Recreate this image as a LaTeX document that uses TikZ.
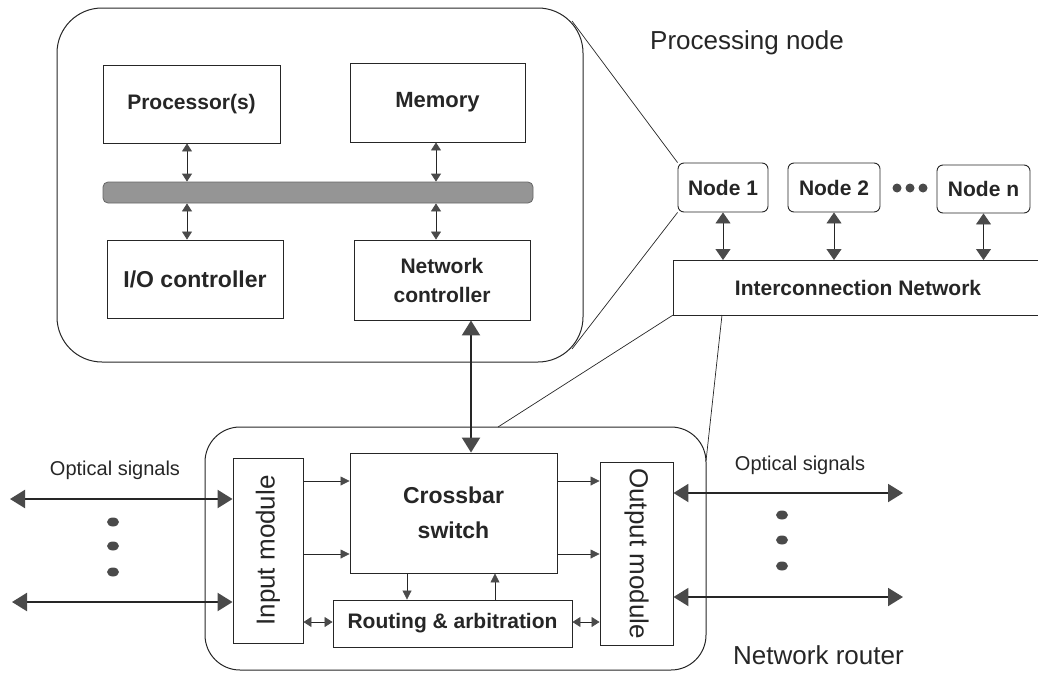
\documentclass[tikz,border=0pt]{standalone}
\usepackage{fontspec}
\setmainfont{Liberation Sans}
\usetikzlibrary{arrows.meta,calc}
\definecolor{ink}{HTML}{262626}
\definecolor{tip}{HTML}{4A4A4A}
\definecolor{busfill}{HTML}{959595}
\begin{document}
\begin{tikzpicture}[x=1pt,y=-1pt,
  box/.style={draw=ink, line width=0.9pt, fill=white, inner sep=0pt, align=center, text=ink,
              font=\bfseries\fontsize{21}{29}\selectfont},
  rbox/.style={box, rounded corners=6pt},
  container/.style={draw=ink, line width=1pt, fill=none, inner sep=0pt},
  zoomline/.style={draw=ink, line width=0.7pt},
  sarrow/.style={draw=ink, line width=0.8pt, -{Triangle[length=9pt,width=9pt,fill=tip,color=tip]}},
  darrow/.style={draw=ink, line width=0.8pt, {Triangle[length=8pt,width=10pt,fill=tip,color=tip]}-{Triangle[length=8pt,width=10pt,fill=tip,color=tip]}},
  narrow/.style={draw=ink, line width=0.9pt, {Triangle[length=11pt,width=15pt,fill=tip,color=tip]}-{Triangle[length=11pt,width=15pt,fill=tip,color=tip]}},
  tarrow/.style={draw=ink, line width=2.2pt, {Triangle[length=15pt,width=18pt,fill=tip,color=tip]}-{Triangle[length=15pt,width=18pt,fill=tip,color=tip]}},
  label/.style={text=ink, inner sep=0pt, font=\fontsize{26}{30}\selectfont},
  optlabel/.style={text=ink, inner sep=0pt, font=\fontsize{20}{24}\selectfont},
  dot/.style={fill=tip}
]
\useasboundingbox (0,0) rectangle (1038,672);

% ---------- Processing node ----------
\node[container, rounded corners=45pt, minimum width=526, minimum height=354] (pn) at (320,185) {};
\node[box, minimum width=177, minimum height=78] (proc) at (191.5,104) {Processor(s)};
\node[box, minimum width=175, minimum height=79, font=\bfseries\fontsize{22}{26}\selectfont] (mem) at (437.5,102.5) {Memory};
\node[draw=black!60, fill=busfill, line width=0.8pt, rounded corners=5pt, minimum width=430, minimum height=21, inner sep=0pt] (bus) at (318,192.5) {};
\node[box, minimum width=176, minimum height=78, font=\bfseries\fontsize{23}{27}\selectfont] (io) at (195,279) {I/O controller};
\node[box, minimum width=176, minimum height=80] (netc) at (442,280) {Network\\controller};

\draw[darrow] (proc.south -| 187,0) -- (bus.north -| 187,0);
\draw[darrow] (bus.south -| 187,0) -- (io.north -| 187,0);
\draw[darrow] (mem.south -| 436,0) -- (bus.north -| 436,0);
\draw[darrow] (bus.south -| 436,0) -- (netc.north -| 436,0);

\node[label, anchor=west] (pnlabel) at (650,43) {Processing node};

% ---------- Nodes and interconnection ----------
\node[rbox, minimum width=90, minimum height=49] (n1) at (723,187.5) {Node 1};
\node[rbox, minimum width=92, minimum height=49] (n2) at (834,187.5) {Node 2};
\node[rbox, minimum width=93, minimum height=48] (nn) at (983.5,189) {Node n};
\fill[dot] (897,188) circle (4.5);
\fill[dot] (910,188) circle (4.5);
\fill[dot] (923,188) circle (4.5);

\node[inner sep=0pt, minimum width=370, minimum height=55, text=ink, font=\bfseries\fontsize{21}{25}\selectfont] (icn) at (858,287.5) {Interconnection Network};
\draw[draw=ink, line width=0.9pt] (1040,260) -- (673,260) -- (673,315) -- (1040,315);

\draw[narrow] (n1.south) -- (n1.south |- 0,260);
\draw[narrow] (n2.south) -- (n2.south |- 0,260);
\draw[narrow] (nn.south) -- (nn.south |- 0,260);

% zoom lines
\coordinate (pnTR) at (572,21);
\coordinate (pnBR) at (572,349);
\draw[zoomline] (pnTR) -- (n1.north west);
\draw[zoomline] (pnBR) -- (n1.south west);

% ---------- Network router ----------
\node[container, rounded corners=35pt, minimum width=501, minimum height=243] (nr) at (455.5,548.5) {};
\node[box, minimum width=70, minimum height=185] (in) at (268,550.5) {};
\node[rotate=90, text=ink, inner sep=0pt, font=\fontsize{26}{30}\selectfont] (intext) at (in.center) {Input module};
\node[box, minimum width=207, minimum height=120, font=\bfseries\fontsize{23}{35}\selectfont] (cb) at (453.5,513) {Crossbar\\switch};
\node[box, minimum width=73, minimum height=183] (out) at (636.5,553.5) {};
\node[rotate=-90, text=ink, inner sep=0pt, font=\fontsize{26}{30}\selectfont] (outtext) at (out.center) {Output module};
\node[box, minimum width=239, minimum height=47] (rt) at (452.5,623.5) {Routing \& arbitration};

\draw[zoomline] (icn.south west) -- (498,427);
\draw[zoomline] (722,315) -- (706,461);

\draw[tarrow] ([xshift=29pt]netc.south) -- ([xshift=29pt]netc.south |- cb.north);

\coordinate (r1) at (0,481);
\coordinate (r2) at (0,554);
\draw[sarrow] (r1 -| in.east) -- (r1 -| cb.west);
\draw[sarrow] (r2 -| in.east) -- (r2 -| cb.west);
\draw[sarrow] (r1 -| cb.east) -- (r1 -| out.west);
\draw[sarrow] (r2 -| cb.east) -- (r2 -| out.west);
\draw[sarrow] (cb.south -| 407,0) -- (rt.north -| 407,0);
\draw[sarrow] (rt.north -| 495,0) -- (cb.south -| 495,0);
\coordinate (r3) at (0,622);
\draw[darrow] (r3 -| in.east) -- (r3 -| rt.west);
\draw[darrow] (r3 -| rt.east) -- (r3 -| out.west);

% optical signals
\coordinate (oL1) at (10,499);
\coordinate (oL2) at (12,602);
\coordinate (oR1) at (903,493);
\coordinate (oR2) at (903,597);
\draw[tarrow] (oL1) -- (oL1 -| in.west);
\draw[tarrow] (oL2) -- (oL2 -| in.west);
\draw[tarrow, line width=2pt] (oR1 -| out.east) -- (oR1);
\draw[tarrow, line width=2pt] (oR2 -| out.east) -- (oR2);
\node[optlabel] (olab) at (115,470) {Optical signals};
\node[optlabel] (orab) at (800,465) {Optical signals};
\fill[dot] (113,522) ellipse [x radius=6, y radius=4.5];
\fill[dot] (113,546) ellipse [x radius=6, y radius=4.5];
\fill[dot] (113,572) ellipse [x radius=6, y radius=4.5];
\fill[dot] (782,515) ellipse [x radius=6, y radius=4.5];
\fill[dot] (782,540) ellipse [x radius=6, y radius=4.5];
\fill[dot] (782,566) ellipse [x radius=6, y radius=4.5];

\node[label, anchor=west] (nrlabel) at (733,655) {Network router};
\end{tikzpicture}
\end{document}
